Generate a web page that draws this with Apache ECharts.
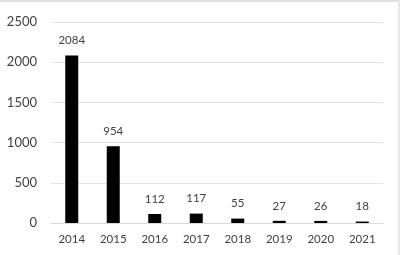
<!DOCTYPE html>
<html><head><meta charset="utf-8">
<script src="https://cdn.jsdelivr.net/npm/echarts@6/dist/echarts.min.js"></script>
<style>html,body{margin:0;padding:0;background:#fff}#c{width:400px;height:255px;box-sizing:border-box;border-top:2px solid #e0e0e0;border-right:2px solid #e6e6e6}</style>
</head><body><div id="c"></div>
<script>
const categories = ['2014','2015','2016','2017','2018','2019','2020','2021'];
const values = [2084, 954, 112, 117, 55, 27, 26, 18];
const yTicks = [0, 500, 1000, 1500, 2000, 2500];
const chart = echarts.init(document.getElementById('c'));
chart.setOption({
  animation:false,
  grid:{left:51, right:15, top:20, bottom:32},
  xAxis:{type:'category', data:categories,
    axisLine:{lineStyle:{color:'#d9d9d9', width:1}}, axisTick:{show:false},
    axisLabel:{color:'#404040', fontSize:11.5, fontFamily:'Lato, Open Sans, sans-serif', margin:10}},
  yAxis:{type:'value', min:yTicks[0], max:yTicks[yTicks.length-1], interval:500,
    axisLine:{show:false}, axisTick:{show:false},
    splitLine:{lineStyle:{color:'#e3e3e3', width:1}},
    axisLabel:{color:'#404040', fontSize:13, fontFamily:'Lato, Open Sans, sans-serif', margin:14, formatter:v=>String(v)}},
  series:[{type:'bar', data:values, barWidth:13, itemStyle:{color:'#000'},
    label:{show:true, position:'top', distance:9, color:'#404040', fontSize:11.5, fontFamily:'Lato, Open Sans, sans-serif'}}]
});
</script></body></html>
